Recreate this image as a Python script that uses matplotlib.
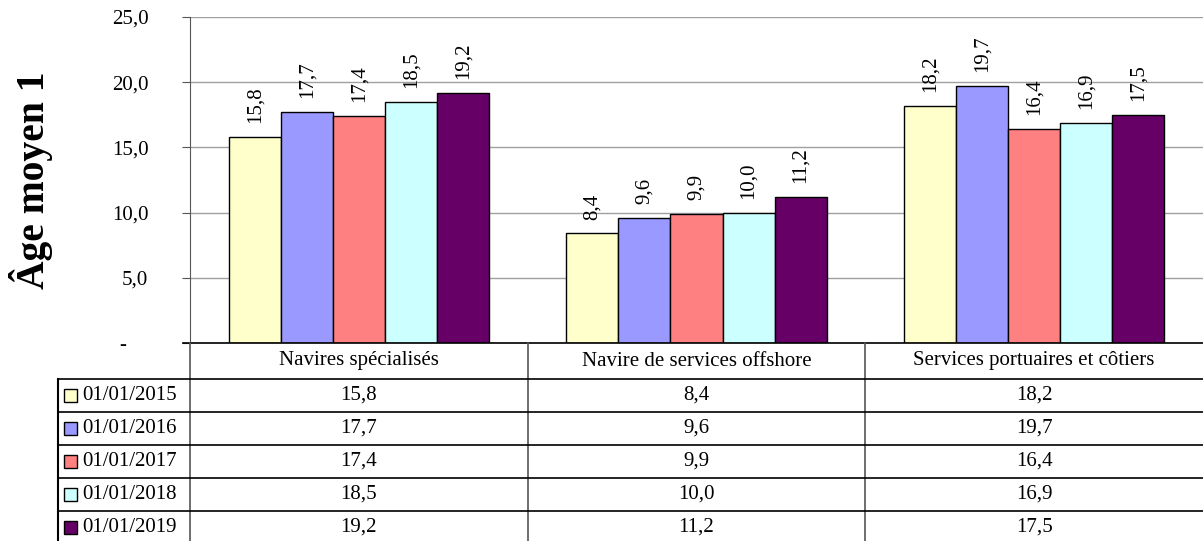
import numpy as np
import matplotlib
matplotlib.use('Agg')
import matplotlib.pyplot as plt
from matplotlib.patches import Rectangle

plt.rcParams['font.family'] = ['Liberation Serif', 'DejaVu Serif']

# données
categories = ['Navires spécialisés', 'Navire de services offshore', 'Services portuaires et côtiers']
dates = ['01/01/2015', '01/01/2016', '01/01/2017', '01/01/2018', '01/01/2019']
v2015 = [15.8, 8.4, 18.2]
v2016 = [17.7, 9.6, 19.7]
v2017 = [17.4, 9.9, 16.4]
v2018 = [18.5, 10.0, 16.9]
v2019 = [19.2, 11.2, 17.5]
series = [v2015, v2016, v2017, v2018, v2019]
couleurs = ['#FFFFCC', '#9999FF', '#FF8080', '#CCFFFF', '#660066']
yticks = [0, 5, 10, 15, 20, 25]
ytick_labels = ['-    ', '5,0', '10,0', '15,0', '20,0', '25,0']

def fr(v):
    return f'{v:.1f}'.replace('.', ',')

W, H = 1203, 541
fs = 15
fig = plt.figure(figsize=(W / 100, H / 100), dpi=100)

# zone du graphique
ax = fig.add_axes([190 / W, (H - 343) / H, (W - 190) / W, (343 - 17) / H])
x = np.arange(len(categories)) + 0.5
larg = 0.154
for i, vals in enumerate(series):
    pos = x + (i - 2) * larg
    ax.bar(pos, vals, width=larg, color=couleurs[i], edgecolor='black', linewidth=1, zorder=3)
    for px, v in zip(pos, vals):
        ax.annotate(fr(v), (px, v), xytext=(0, 10), textcoords='offset points',
                    rotation=90, ha='center', va='bottom', fontsize=fs)

ax.set_xlim(0, 3)
ax.set_ylim(0, 25)
ax.set_yticks(yticks)
ax.set_yticklabels(ytick_labels, fontsize=fs)
ax.set_xticks([])
ax.yaxis.grid(True, color='#a0a0a0', linewidth=1, zorder=0)
ax.tick_params(axis='y', direction='out', length=6, color='#555555', pad=24)
for s in ['top', 'right', 'bottom']:
    ax.spines[s].set_visible(False)
ax.spines['left'].set_color('#555555')
fig.text(31 / W, 1 - 180 / H, 'Âge moyen 1', rotation=90, ha='center', va='center',
         fontsize=28.5, fontweight='bold')

# tableau de données
gauche = 132 / 337.7
h_tete = 36 / 33
n = len(dates)
haut_px = 36 + 33 * n
tab = fig.add_axes([58 / W, (H - 343 - haut_px) / H, (W - 58) / W, haut_px / H])
tab.set_xlim(-gauche, 3)
tab.set_ylim(0, n + h_tete)
tab.invert_yaxis()
tab.axis('off')

# ligne de base (axe x) et entête
tab.plot([-gauche + 125 / 337.7, 3], [0, 0], color='black', lw=1.2, clip_on=False)
for j, cat in enumerate(categories):
    tab.text(j + 0.5, h_tete / 2, cat, ha='center', va='center', fontsize=fs)
for j in range(len(categories)):
    tab.plot([j, j], [0, n + h_tete], color='#555555', lw=1.2, clip_on=False)
tab.plot([-gauche, -gauche], [h_tete, n + h_tete], color='black', lw=1.5, clip_on=False)
for i in range(n + 1):
    tab.plot([-gauche, 3], [h_tete + i, h_tete + i], color='black', lw=1.2, clip_on=False)

for i, d in enumerate(dates):
    yc = h_tete + i + 0.5
    tab.add_patch(Rectangle((-gauche + 6 / 337.7, yc - 6.5 / 33), 13 / 337.7, 13 / 33,
                            facecolor=couleurs[i], edgecolor='black', lw=1))
    tab.text(-gauche + 24 / 337.7, yc, d, ha='left', va='center', fontsize=fs)
    for j in range(len(categories)):
        tab.text(j + 0.5, yc, fr(series[i][j]), ha='center', va='center', fontsize=fs)

fig.savefig('out.png', dpi=100)
